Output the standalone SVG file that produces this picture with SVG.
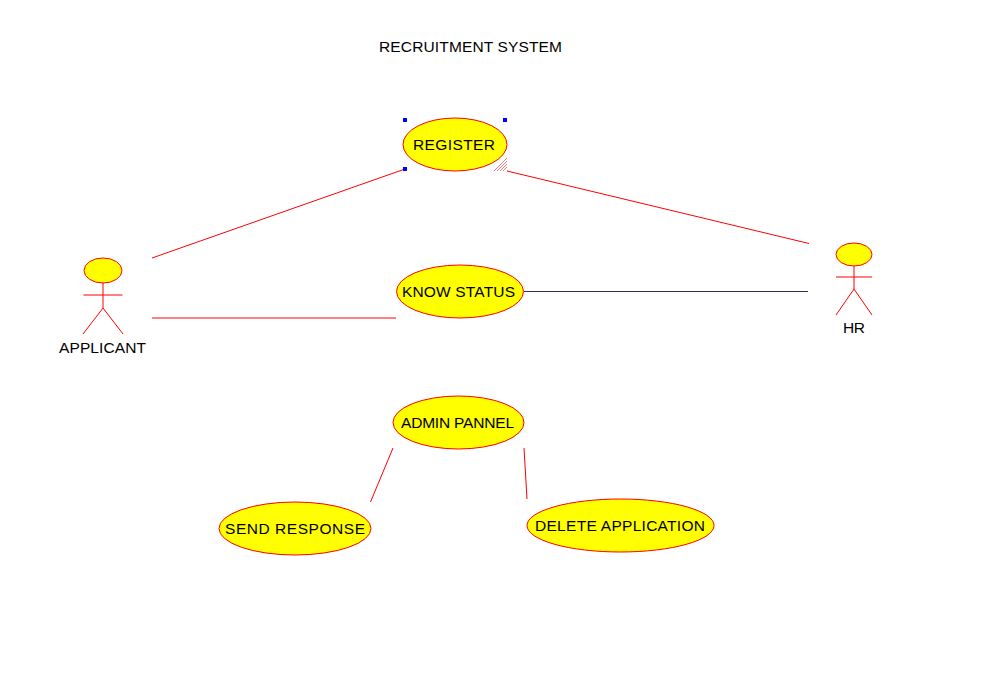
<svg xmlns="http://www.w3.org/2000/svg" width="983" height="674" viewBox="0 0 983 674">
<style>
text{font-family:"Liberation Sans",Arial,sans-serif;font-size:15.5px;fill:#000;text-anchor:middle}
.u{fill:#ff0;stroke:#f00;stroke-width:1}
.l{fill:none;stroke:#f00;stroke-width:1}
.h{fill:#00f}
</style>
<rect width="983" height="674" fill="#fff"/>
<text id="title" x="470.500" y="52" textLength="183">RECRUITMENT SYSTEM</text>
<g id="connectors">
<line class="l" x1="152" y1="258" x2="405" y2="169"/>
<line class="l" x1="507" y1="171" x2="809" y2="243.500"/>
<line class="l" x1="152" y1="318" x2="396" y2="318"/>
<line x1="524" y1="291.500" x2="808" y2="291.500" stroke="#303060" stroke-width="1"/>
<line class="l" x1="393" y1="448" x2="370.500" y2="502"/>
<line class="l" x1="524" y1="448" x2="527" y2="499"/>
</g>
<g id="register"><ellipse class="u" cx="455" cy="144.500" rx="52" ry="26.500"/><text x="454" y="150" textLength="82">REGISTER</text></g>
<g id="selection">
<rect class="h" x="403" y="118" width="4" height="4"/>
<rect class="h" x="503" y="118" width="4" height="4"/>
<rect class="h" x="403" y="167" width="4" height="4"/>
<path d="M494 171l13-13M497 171l10-10M500 171l7-7M503 171l4-4" fill="none" stroke="#f08080" stroke-width="1"/>
</g>
<g id="know-status"><ellipse class="u" cx="460" cy="291.500" rx="63.500" ry="26.500"/><text x="458.500" y="297" textLength="113">KNOW STATUS</text></g>
<g id="admin-pannel"><ellipse class="u" cx="458.500" cy="422.500" rx="65.500" ry="26.500"/><text x="457.500" y="428" textLength="113">ADMIN PANNEL</text></g>
<g id="send-response"><ellipse class="u" cx="295" cy="528.500" rx="76" ry="26.500"/><text x="295" y="534" textLength="140">SEND RESPONSE</text></g>
<g id="delete-application"><ellipse class="u" cx="620.500" cy="525.500" rx="93.500" ry="26.500"/><text x="620" y="531" textLength="170">DELETE APPLICATION</text></g>
<g id="applicant">
<ellipse class="u" cx="103" cy="270.500" rx="19" ry="12.500"/>
<path class="l" d="M103 283V308M83.500 295H122.500M103 308L83 334M103 308L123 334" stroke="#f66"/>
<text x="102.500" y="353" textLength="87">APPLICANT</text>
</g>
<g id="hr">
<ellipse class="u" cx="854" cy="254.500" rx="18" ry="11.500"/>
<path class="l" d="M854 266V289M836 277H872M854 289L836 315M854 289L872 315" stroke="#f66"/>
<text x="854" y="333" textLength="22">HR</text>
</g>
</svg>
